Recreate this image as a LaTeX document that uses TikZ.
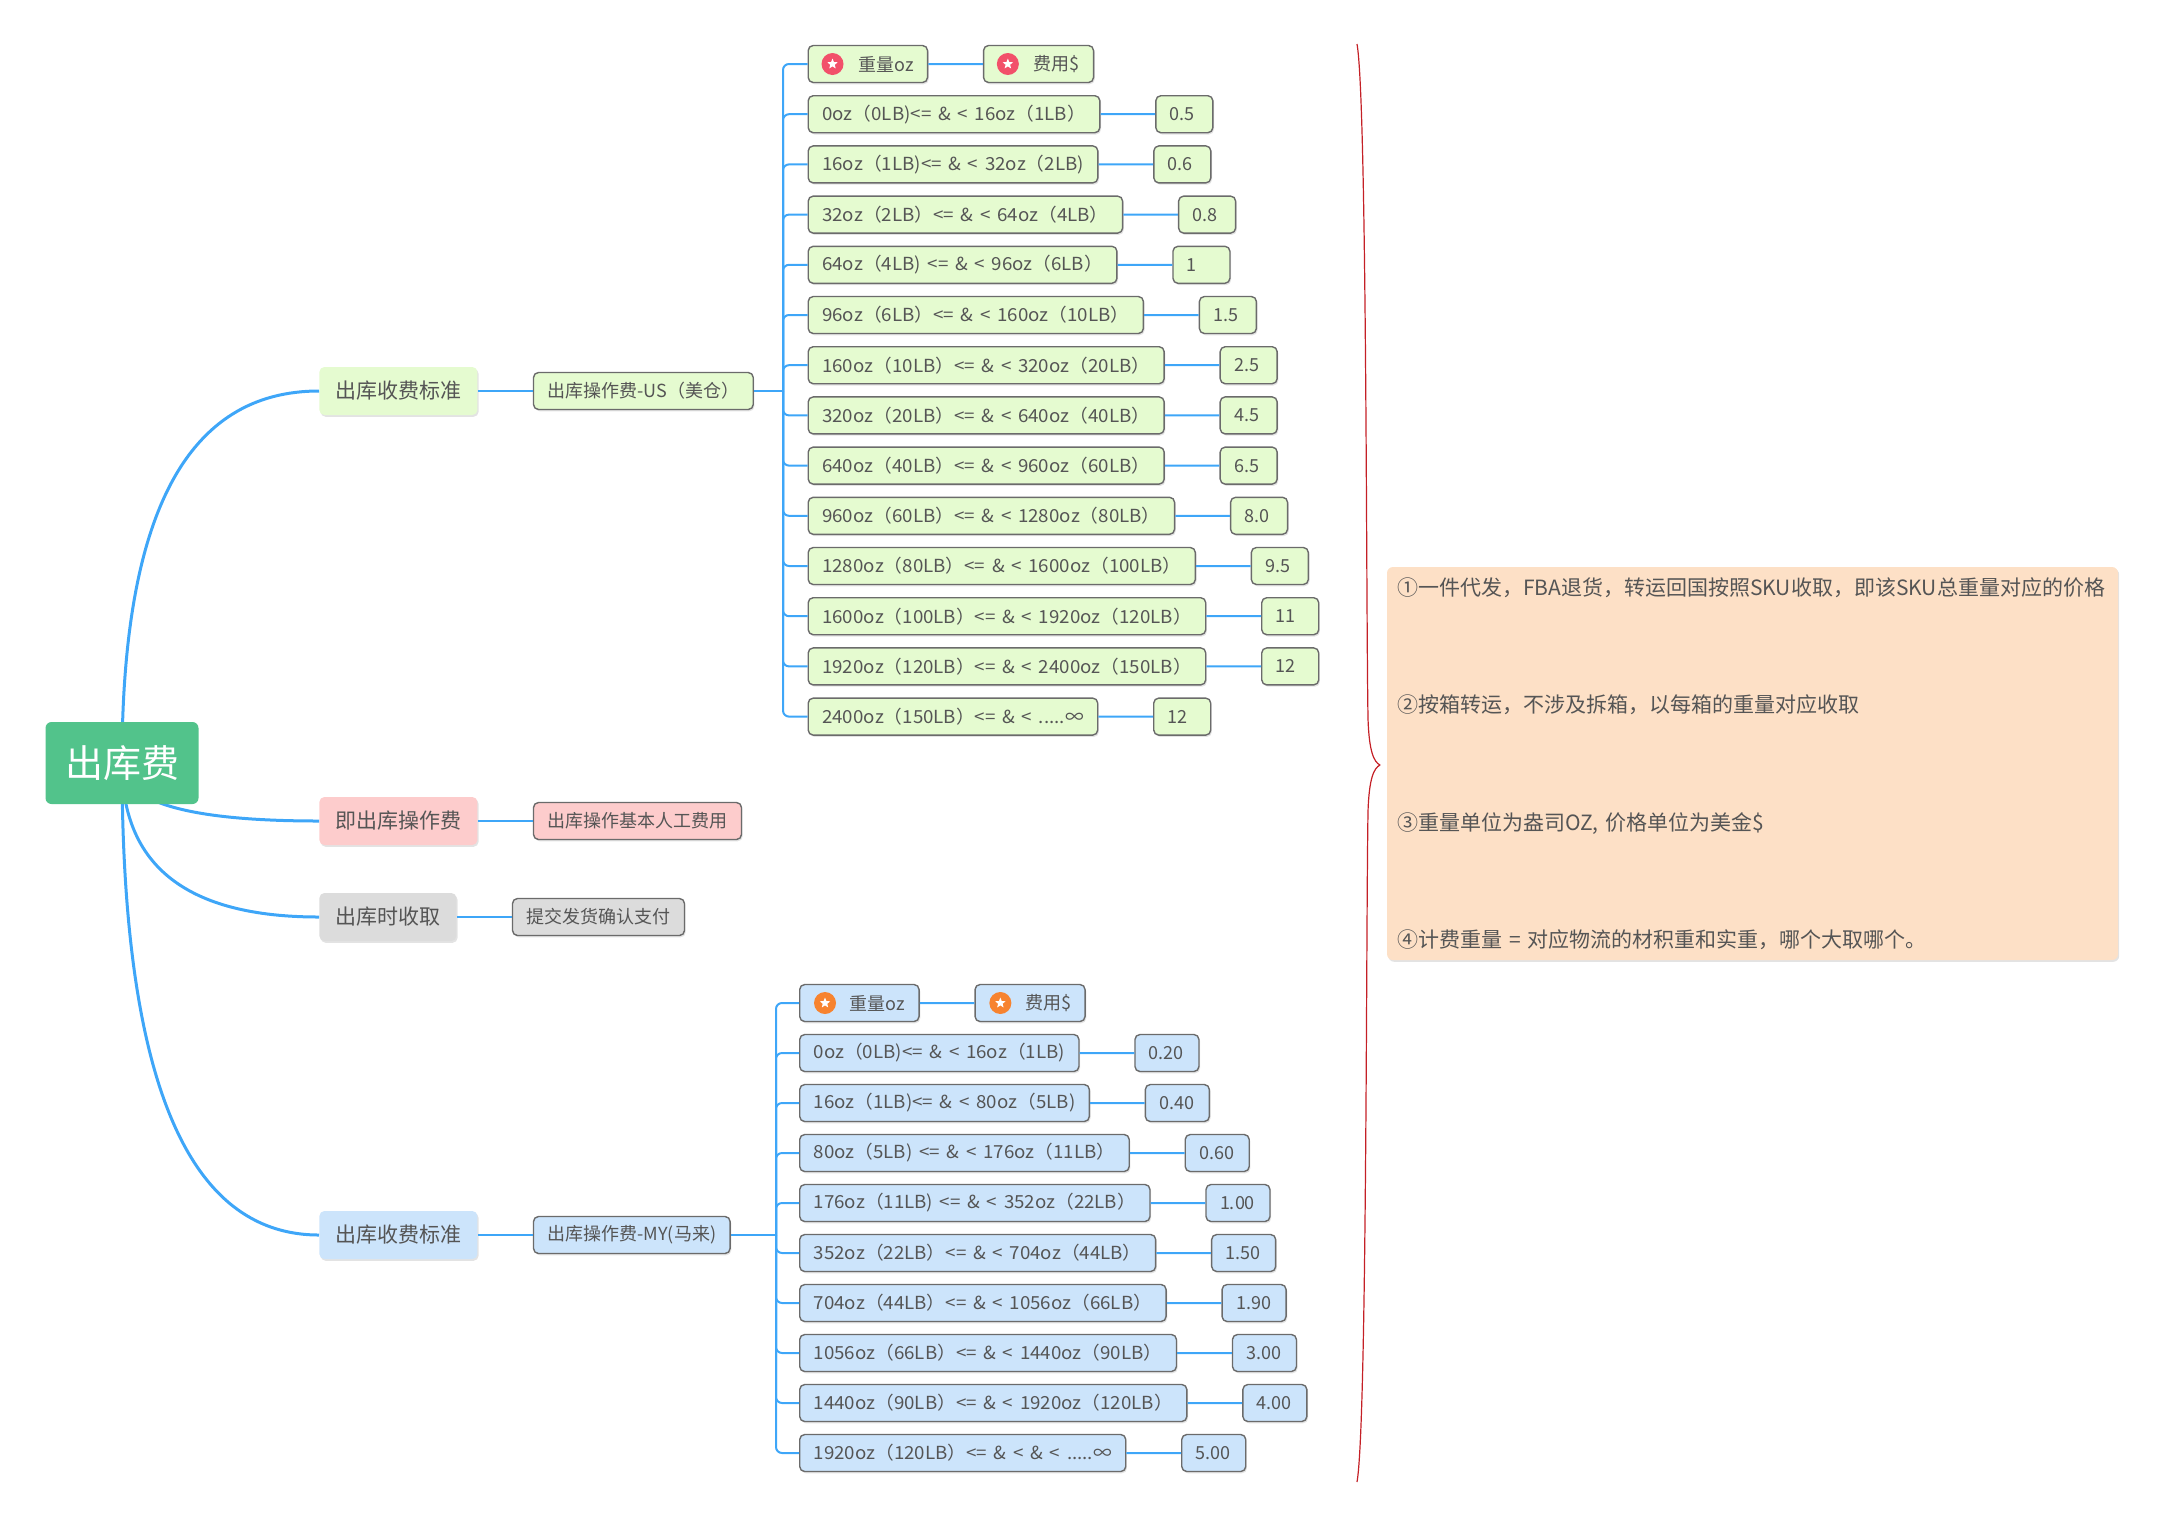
\documentclass[tikz,border=0pt]{standalone}
\usepackage{fontspec}
\setmainfont{Noto Sans CJK SC}
\newfontfamily\rowfont{Noto Sans CJK SC}[FakeStretch=1.04, WordSpace=1.6]
\usetikzlibrary{positioning,calc,shapes.geometric,shadows}
\definecolor{rootgreen}{HTML}{52C38B}
\definecolor{usfill}{HTML}{E5FBD0}
\definecolor{myfill}{HTML}{CCE4FB}
\definecolor{nowfill}{HTML}{FDCCCC}
\definecolor{payfill}{HTML}{DCDCDC}
\definecolor{notefill}{HTML}{FDE0C6}
\definecolor{linkblue}{HTML}{3EA6F8}
\definecolor{boxline}{HTML}{6B6B6B}
\definecolor{inkgrey}{HTML}{555555}
\definecolor{usred}{HTML}{F2506A}
\definecolor{myorange}{HTML}{F7832F}
\definecolor{bracered}{HTML}{C42026}
\newcommand\openend{.....∞}
\tikzset{
  soft/.style={drop shadow={opacity=0.22, shadow xshift=0.6pt, shadow yshift=-0.9pt}},
  topic/.style={rounded corners=2.5pt, soft, text=inkgrey, fill=#1},
  rootbox/.style={fill=rootgreen, rounded corners=3pt, text=white, minimum width=76.5pt, minimum height=41pt, font=\fontsize{19pt}{22pt}\selectfont},
  lvone/.style={topic=#1, inner xsep=8pt, minimum height=24pt, font=\fontsize{10.5pt}{12pt}\selectfont},
  lvtwo/.style={topic=#1, draw=boxline, line width=0.7pt, inner xsep=7pt, minimum height=18.5pt, font=\fontsize{9pt}{11pt}\selectfont},
  range/.style={lvtwo=#1, font=\rowfont\fontsize{9pt}{11pt}\selectfont},
  usprice/.style={lvtwo=usfill, text width=14.5pt, align=left},
  myprice/.style={lvtwo=myfill, text width=18pt, align=left},
  staricon/.style={circle, fill=#1, minimum size=11pt, inner sep=0pt,
    path picture={\node[star, star points=5, star point ratio=2.3, fill=white, minimum size=5.5pt, inner sep=0pt] at (path picture bounding box.center) {};}},
  notebox/.style={fill=notefill, rounded corners=3pt, soft, text=inkgrey, inner xsep=5pt, inner ysep=5pt, text width=355.5pt, minimum height=196.5pt, align=left, font=\fontsize{10.5pt}{58.75pt}\selectfont},
  trunk/.style={draw=linkblue, line width=1.5pt},
  twig/.style={draw=linkblue, line width=1pt, rounded corners=3pt},
  brace/.style={draw=bracered, line width=0.6pt}
}
\begin{document}
\begin{tikzpicture}[x=0.5pt, y=-0.5pt, line join=round]
  \useasboundingbox (0,0) rectangle (2158,1527);
  % main topics
  \coordinate (hub) at (122,763);
  \node[lvone=usfill, anchor=west] (us1) at (319,391) {出库收费标准};
  \node[lvone=nowfill, anchor=west] (now1) at (319,821) {即出库操作费};
  \node[lvone=payfill, anchor=west] (pay1) at (319,917) {出库时收取};
  \node[lvone=myfill, anchor=west] (my1) at (319,1235) {出库收费标准};
  \foreach \t in {us1,now1,pay1,my1}
    \draw[trunk] (hub) .. controls ($(hub)!0.67!(hub|-\t.west)$) and ($(\t.west)!0.67!(hub|-\t.west)$) .. (\t.west);
  \node[rootbox] (root) at (hub) {出库费};
  % sub topics
  \node[lvtwo=usfill, right=27.5pt of us1] (us2) {出库操作费-US（美仓）};
  \node[lvtwo=nowfill, right=27.5pt of now1] (now2) {出库操作基本人工费用};
  \node[lvtwo=payfill, right=27.5pt of pay1] (pay2) {提交发货确认支付};
  \node[lvtwo=myfill, right=27.5pt of my1] (my2) {出库操作费-MY(马来)};
  \draw[twig] (us1) -- (us2) (now1) -- (now2) (pay1) -- (pay2) (my1) -- (my2);
  % US price list
  \coordinate (usfork) at (783,391);
  \draw[twig] (us2) -- (usfork);
  \node[lvtwo=usfill, anchor=west] (u0) at (807.5,64) {\hspace{18pt}重量oz};
  \node[lvtwo=usfill, right=27.3pt of u0] (uc) {\hspace{18pt}费用\$};
  \node[staricon=usred] (usiw) at ([xshift=12.5pt]u0.west) {};
  \node[staricon=usred] (usic) at ([xshift=12.5pt]uc.west) {};
  \draw[twig] (usfork) |- (u0.west) (u0) -- (uc);
  \foreach \txt/\val [count=\row] in {0oz（0LB)<= \& < 16oz（1LB）/0.5, 16oz（1LB)<= \& < 32oz（2LB)/0.6,
      32oz（2LB）<= \& < 64oz（4LB）/0.8, 64oz（4LB) <= \& < 96oz（6LB）/1,
      96oz（6LB）<= \& < 160oz（10LB）/1.5, 160oz（10LB）<= \& < 320oz（20LB）/2.5,
      320oz（20LB）<= \& < 640oz（40LB）/4.5, 640oz（40LB）<= \& < 960oz（60LB）/6.5,
      960oz（60LB）<= \& < 1280oz（80LB）/8.0, 1280oz（80LB）<= \& < 1600oz（100LB）/9.5,
      1600oz（100LB）<= \& < 1920oz（120LB）/11, 1920oz（120LB）<= \& < 2400oz（150LB）/12,
      2400oz（150LB）<= \& < \openend/12}{
    \pgfmathtruncatemacro\prev{\row-1}
    \node[range=usfill, below right=5.9pt and 0pt of u\prev.south west] (u\row) {\txt};
    \node[usprice, right=27.3pt of u\row] (uv\row) {\val};
    \draw[twig] (usfork) |- (u\row.west) (u\row) -- (uv\row);
  }
  % MY price list
  \coordinate (myfork) at (776,1235);
  \draw[twig] (my2) -- (myfork);
  \node[lvtwo=myfill, anchor=west] (m0) at (799,1003) {\hspace{18pt}重量oz};
  \node[lvtwo=myfill, right=27.3pt of m0] (mc) {\hspace{18pt}费用\$};
  \node[staricon=myorange] (myiw) at ([xshift=13pt]m0.west) {};
  \node[staricon=myorange] (myic) at ([xshift=13pt]mc.west) {};
  \draw[twig] (myfork) |- (m0.west) (m0) -- (mc);
  \foreach \txt/\val [count=\row] in {0oz（0LB)<= \& < 16oz（1LB)/0.20, 16oz（1LB)<= \& < 80oz（5LB)/0.40,
      80oz（5LB) <= \& < 176oz（11LB）/0.60, 176oz（11LB) <= \& < 352oz（22LB）/1.00,
      352oz（22LB）<= \& < 704oz（44LB）/1.50, 704oz（44LB）<= \& < 1056oz（66LB）/1.90,
      1056oz（66LB）<= \& < 1440oz（90LB）/3.00, 1440oz（90LB）<= \& < 1920oz（120LB）/4.00,
      1920oz（120LB）<= \& < \& < \openend/5.00}{
    \pgfmathtruncatemacro\prev{\row-1}
    \node[range=myfill, below right=5.8pt and 0pt of m\prev.south west] (m\row) {\txt};
    \node[myprice, right=27.3pt of m\row] (mv\row) {\val};
    \draw[twig] (myfork) |- (m\row.west) (m\row) -- (mv\row);
  }
  % note and brace
  \node[notebox] (note) at (1752.5,763.5) {①一件代发，FBA退货，转运回国按照SKU收取，即该SKU总重量对应的价格\\
    ②按箱转运，不涉及拆箱，以每箱的重量对应收取\\
    ③重量单位为盎司OZ, 价格单位为美金\$\\
    ④计费重量 = 对应物流的材积重和实重，哪个大取哪个。};
  \coordinate (btop) at (1357,44);
  \coordinate (btip) at (1380,765);
  \coordinate (bbot) at (1357,1482);
  \draw[brace] (btop) .. controls (1367,100) and (1366,600) .. (1368,718)
    .. controls (1369,752) and (1374,762) .. (btip)
    .. controls (1374,768) and (1369,778) .. (1368,812)
    .. controls (1366,930) and (1367,1426) .. (bbot);
\end{tikzpicture}
\end{document}
